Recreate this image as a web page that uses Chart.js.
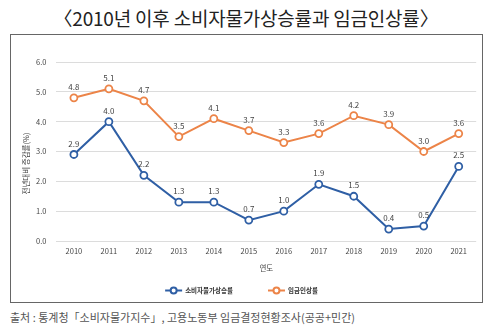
<!DOCTYPE html>
<html>
<head>
<meta charset="utf-8">
<script src="https://cdn.jsdelivr.net/npm/chart.js@4/dist/chart.umd.min.js"></script>
<style>
    body { margin: 0; background: #fff; width: 492px; height: 333px; position: relative; overflow: hidden;
        font-family: "Noto Sans CJK KR", "Noto Sans", sans-serif; }
    #title { position: absolute; left: 0; top: 4px; width: 492px; text-align: center;
        font-size: 19px; color: #222; letter-spacing: -0.2px; }
    #box { position: absolute; left: 10px; top: 34px; width: 471px; height: 267px; border: 1.5px solid #666; }
    #source { position: absolute; left: 10px; top: 309px; font-size: 11px; color: #555; }
</style>
</head>
<body>
<div id="title">〈2010년 이후 소비자물가상승률과 임금인상률〉</div>
<div id="box"><canvas id="chart" width="471" height="267"></canvas></div>
<div id="source">출처 : 통계청「소비자물가지수」, 고용노동부 임금결정현황조사(공공+민간)</div>
<script>
const years = ['2010', '2011', '2012', '2013', '2014', '2015', '2016', '2017', '2018', '2019', '2020', '2021'];
const cpi = [2.9, 4.0, 2.2, 1.3, 1.3, 0.7, 1.0, 1.9, 1.5, 0.4, 0.5, 2.5];
const wage = [4.8, 5.1, 4.7, 3.5, 4.1, 3.7, 3.3, 3.6, 4.2, 3.9, 3.0, 3.6];
const seriesNames = ['소비자물가상승률', '임금인상률'];
const yTicks = [0, 1, 2, 3, 4, 5, 6];
const yTitle = '전년대비 증감률(%)';

const blue = '#2f5fa5';
const orange = '#ec8448';
const fontFamily = '"Noto Sans CJK KR", "Noto Sans", sans-serif';

// value labels above each point
const pointLabels = {
    id: 'pointLabels',
    afterDatasetsDraw(chart) {
        const g = chart.ctx;
        g.save();
        g.font = '8px ' + fontFamily;
        g.fillStyle = '#444';
        g.textAlign = 'center';
        g.textBaseline = 'middle';
        chart.data.datasets.forEach((ds, i) => {
            chart.getDatasetMeta(i).data.forEach((pt, j) => {
                g.fillText(ds.data[j].toFixed(1), pt.x, pt.y - 11);
            });
        });
        g.restore();
    }
};

// rotated y title, sitting a little below the middle of the plot
const sideTitle = {
    id: 'sideTitle',
    afterDraw(chart) {
        const g = chart.ctx;
        const a = chart.chartArea;
        g.save();
        g.translate(a.left - 30, (a.top + a.bottom) / 2 + 12);
        g.rotate(-Math.PI / 2);
        g.font = '7.5px ' + fontFamily;
        g.fillStyle = '#444';
        g.textAlign = 'center';
        g.textBaseline = 'middle';
        g.fillText(yTitle, 0, 0);
        g.restore();
    }
};

// bottom legend: line with hollow circle, then series name
const lineLegend = {
    id: 'lineLegend',
    afterDraw(chart) {
        const g = chart.ctx;
        const y = chart.height - 11.5;
        const iconW = 17, gapText = 3, gapItem = 35;
        g.save();
        g.font = 'bold 6.5px ' + fontFamily;
        const widths = chart.data.datasets.map(ds => iconW + gapText + g.measureText(ds.label).width);
        const total = widths.reduce((a, b) => a + b, 0) + gapItem * (widths.length - 1);
        let x = chart.width / 2 - 5 - total / 2;
        chart.data.datasets.forEach((ds, i) => {
            g.strokeStyle = ds.borderColor;
            g.lineWidth = 2;
            g.beginPath(); g.moveTo(x, y); g.lineTo(x + iconW, y); g.stroke();
            g.fillStyle = '#fff';
            g.beginPath(); g.arc(x + iconW / 2, y, 3, 0, Math.PI * 2); g.fill(); g.stroke();
            g.fillStyle = '#333';
            g.textAlign = 'left';
            g.textBaseline = 'middle';
            g.fillText(ds.label, x + iconW + gapText, y + 0.5);
            x += widths[i] + gapItem;
        });
        g.restore();
    }
};

const ctx = document.getElementById('chart');
new Chart(ctx, {
    type: 'line',
    data: {
        labels: years,
        datasets: [
            {label: seriesNames[0], data: cpi, borderColor: blue, backgroundColor: '#fff'},
            {label: seriesNames[1], data: wage, borderColor: orange, backgroundColor: '#fff'},
        ]
    },
    options: {
        responsive: false,
        animation: false,
        elements: {
            line: {borderWidth: 2, tension: 0},
            point: {radius: 3.5, borderWidth: 1.8, pointStyle: 'circle'}
        },
        layout: {padding: {top: 27, right: 1, left: 15, bottom: 29}},
        scales: {
            x: {
                offset: true,
                grid: {display: false, drawTicks: false},
                border: {display: false},
                ticks: {color: '#444', font: {size: 7.5, family: fontFamily}, padding: 6},
                title: {display: true, text: '연도', color: '#444', font: {size: 7.5, family: fontFamily}, padding: {top: 2, bottom: 0}}
            },
            y: {
                min: 0, max: 6,
                afterBuildTicks: (axis) => { axis.ticks = yTicks.map(v => ({value: v})); },
                grid: {color: '#dcdcdc', lineWidth: 1, drawTicks: false},
                border: {display: false},
                ticks: {color: '#444', font: {size: 7.5, family: fontFamily}, padding: 10,
                    callback: (v) => v.toFixed(1)}
            }
        },
        plugins: {
            legend: {display: false},
            tooltip: {enabled: false}
        }
    },
    plugins: [pointLabels, sideTitle, lineLegend]
});
</script>
</body>
</html>
